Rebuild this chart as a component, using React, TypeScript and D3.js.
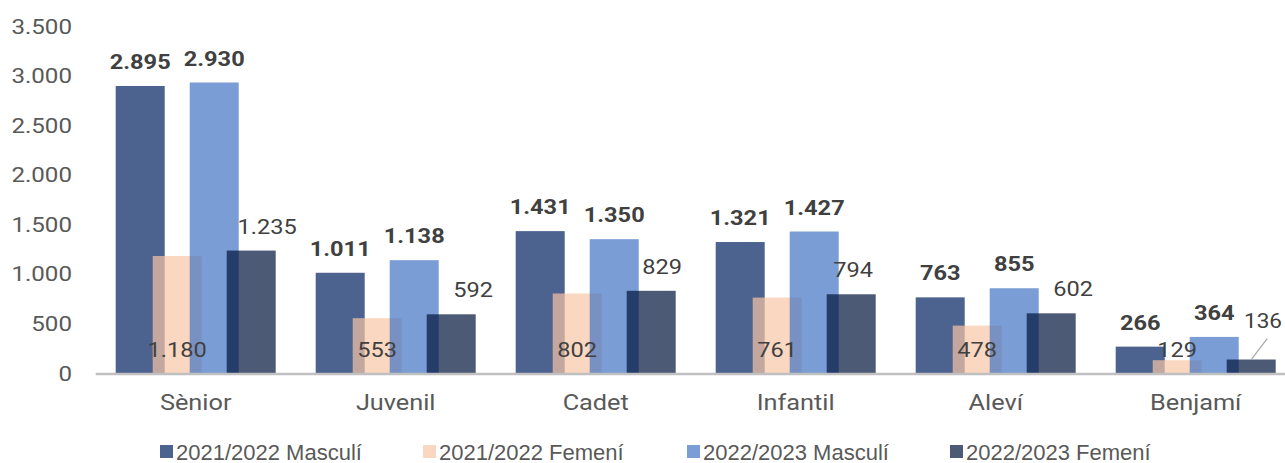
import React from "react";
import * as d3 from "d3";

const categories = ["Sènior", "Juvenil", "Cadet", "Infantil", "Aleví", "Benjamí"];
const masc2122 = [2895, 1011, 1431, 1321, 763, 266];
const fem2122 = [1180, 553, 802, 761, 478, 129];
const masc2223 = [2930, 1138, 1350, 1427, 855, 364];
const fem2223 = [1235, 592, 829, 794, 602, 136];
const seriesNames = ["2021/2022 Masculí", "2021/2022 Femení", "2022/2023 Masculí", "2022/2023 Femení"];
const yTicks = [0, 500, 1000, 1500, 2000, 2500, 3000, 3500];

const W = 1285;
const H = 463;
const colors = ["rgb(0,31,96)", "rgb(248,198,165)", "rgb(66,115,195)", "rgb(0,20,59)"];
const OP = 0.7;
const SX = 1.15;

const fmt = d3.formatLocale({ decimal: ",", thousands: ".", grouping: [3], currency: ["", ""] }).format(",");

export default function App() {
  const x = d3.scaleBand<string>().domain(categories).range([95.7, 1295.7]);
  const y = d3.scaleLinear().domain([0, 3500]).range([373, 26]);
  const step = x.step();
  const bw = step * 0.245;
  const off = step * 0.185;
  const series = [masc2122, fem2122, masc2223, fem2223];
  const slateDx = [16, 22, 11, 2, 22, 0];
  const font = "Roboto, 'Liberation Sans', Arial, sans-serif";
  const lblColor = "#404040";

  const st = (tx: number, ty: number, sx = SX) => `translate(${tx},${ty}) scale(${sx},1)`;

  return (
    <svg width={W} height={H} style={{ position: "absolute", left: 0, top: 0, background: "#fff" }} fontFamily={font}>
      {yTicks.map((t) => (
        <text key={t} transform={st(72, y(t) + 7.5)} textAnchor="end" fontSize={21} fill="#595959">
          {fmt(t)}
        </text>
      ))}
      {series.map((vals, si) =>
        categories.map((c, ci) => {
          const cx = (x(c) as number) + step / 2 + (si - 1.5) * off;
          return (
            <rect
              key={`${si}-${ci}`}
              x={cx - bw / 2}
              y={y(vals[ci])}
              width={bw}
              height={y(0) - y(vals[ci])}
              fill={colors[si]}
              fillOpacity={OP}
            />
          );
        })
      )}
      <line x1={95.7} x2={W} y1={y(0) + 1} y2={y(0) + 1} stroke="#c0c0c0" strokeWidth={2.5} />
      {categories.map((c) => (
        <text key={c} transform={st((x(c) as number) + step / 2, 410)} textAnchor="middle" fontSize={22} fill="#595959">
          {c}
        </text>
      ))}
      {[0, 2].map((si) =>
        categories.map((c, ci) => {
          const cx = (x(c) as number) + step / 2 + (si - 1.5) * off;
          return (
            <text key={`l${si}-${ci}`} transform={st(cx, y(series[si][ci]) - 17)} textAnchor="middle" fontSize={20.5} fontWeight="bold" fill={lblColor}>
              {fmt(series[si][ci])}
            </text>
          );
        })
      )}
      {categories.map((c, ci) => {
        const cx = (x(c) as number) + step / 2 - 0.5 * off;
        return (
          <text key={`lf1-${ci}`} transform={st(cx, 357)} textAnchor="middle" fontSize={20.5} fill={lblColor}>
            {fmt(fem2122[ci])}
          </text>
        );
      })}
      {categories.map((c, ci) => {
        const cx = (x(c) as number) + step / 2 + 1.5 * off;
        const last = ci === categories.length - 1;
        if (last) {
          const top = y(fem2223[ci]);
          return (
            <g key={`lf2-${ci}`}>
              <line x1={cx} y1={top} x2={cx + 16} y2={top - 21} stroke="#a6a6a6" strokeWidth={1.2} />
              <text transform={st(W - 3, 328, 1.1)} textAnchor="end" fontSize={20.5} fill={lblColor}>
                {fmt(fem2223[ci])}
              </text>
            </g>
          );
        }
        return (
          <text key={`lf2-${ci}`} transform={st(cx + slateDx[ci], y(fem2223[ci]) - 17)} textAnchor="middle" fontSize={20.5} fill={lblColor}>
            {fmt(fem2223[ci])}
          </text>
        );
      })}
      {seriesNames.map((n, i) => {
        const lx = [160, 423, 687, 950][i];
        return (
          <g key={n}>
            <rect x={lx} y={445} width={13} height={13} fill={colors[i]} fillOpacity={OP} />
            <text x={lx + 16} y={459.5} fontSize={22} fill="#595959" fontFamily="'Liberation Sans', Arial, sans-serif">
              {n}
            </text>
          </g>
        );
      })}
    </svg>
  );
}
